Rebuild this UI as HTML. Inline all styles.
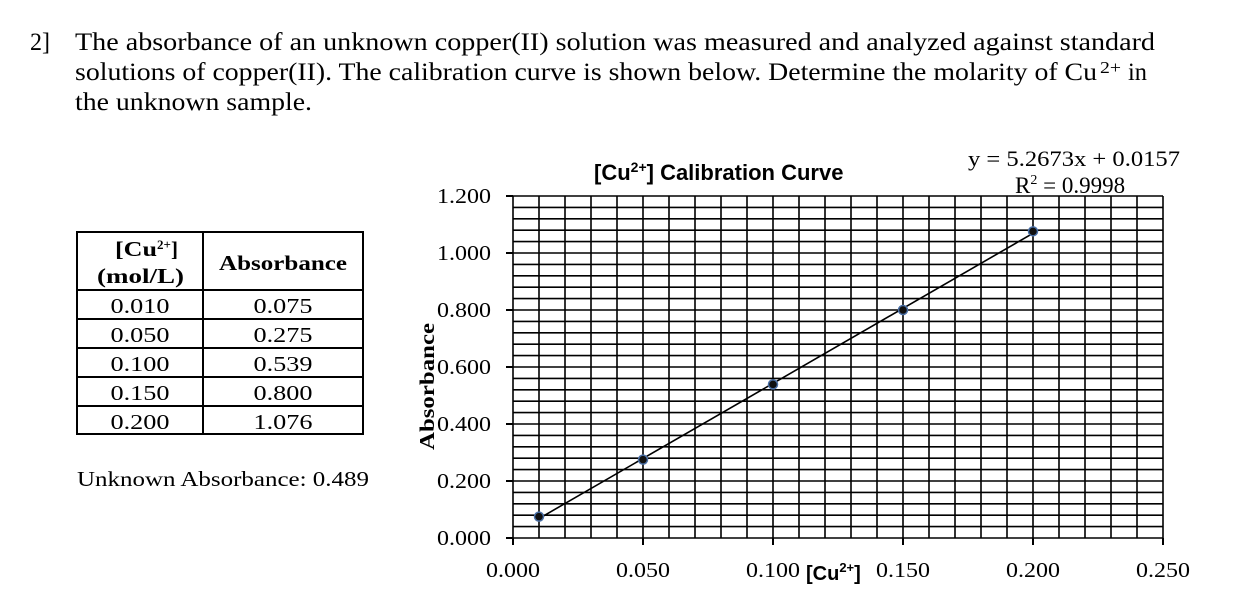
<!DOCTYPE html>
<html><head><meta charset="utf-8"><style>
body{margin:0;width:1246px;height:608px;background:#fff;overflow:hidden}
svg text{font-family:"Liberation Serif","DejaVu Serif",serif;fill:#000}
</style></head><body>
<svg id="c" width="1246" height="608" style="position:absolute;left:0;top:0">
<g font-size="25">
<text x="30" y="50" textLength="20" lengthAdjust="spacingAndGlyphs">2]</text>
<text x="75" y="50" textLength="1080" lengthAdjust="spacingAndGlyphs">The absorbance of an unknown copper(II) solution was measured and analyzed against standard</text>
<text x="75" y="80" textLength="1022" lengthAdjust="spacingAndGlyphs">solutions of copper(II).  The calibration curve is shown below.  Determine the molarity of Cu</text>
<text x="1100" y="73" font-size="17" textLength="21" lengthAdjust="spacingAndGlyphs">2+</text>
<text x="1128" y="80" textLength="19" lengthAdjust="spacingAndGlyphs">in</text>
<text x="75" y="110" textLength="237" lengthAdjust="spacingAndGlyphs">the unknown sample.</text>
</g>
<g font-size="21">
<rect x="77" y="232" width="286" height="202" fill="none" stroke="#000" stroke-width="2"/>
<line x1="203" x2="203" y1="232" y2="434" stroke="#000" stroke-width="2"/>
<line x1="77" x2="363" y1="290" y2="290" stroke="#000" stroke-width="2"/>
<line x1="77" x2="363" y1="319" y2="319" stroke="#000" stroke-width="2"/>
<line x1="77" x2="363" y1="348" y2="348" stroke="#000" stroke-width="2"/>
<line x1="77" x2="363" y1="377" y2="377" stroke="#000" stroke-width="2"/>
<line x1="77" x2="363" y1="406" y2="406" stroke="#000" stroke-width="2"/>
<text x="115" y="256" font-weight="bold" textLength="42" lengthAdjust="spacingAndGlyphs">[Cu</text>
<text x="157" y="249" font-weight="bold" font-size="13">2+</text>
<text x="171" y="256" font-weight="bold">]</text>
<text x="97" y="283" font-weight="bold" textLength="87" lengthAdjust="spacingAndGlyphs">(mol/L)</text>
<text x="219" y="270" font-weight="bold" textLength="128" lengthAdjust="spacingAndGlyphs">Absorbance</text>
</g>
<text x="77" y="486" font-size="21" textLength="292" lengthAdjust="spacingAndGlyphs">Unknown Absorbance: 0.489</text>
</svg>
<script>
const xs=[0.010,0.050,0.100,0.150,0.200];
const ys=[0.075,0.275,0.539,0.800,1.076];
const colA=["0.010","0.050","0.100","0.150","0.200"];
const colB=["0.075","0.275","0.539","0.800","1.076"];
const xTickVals=[0,0.05,0.1,0.15,0.2,0.25];
const yTickVals=[0,0.2,0.4,0.6,0.8,1.0,1.2];
const slope=5.2673, intercept=0.0157;
const L=513,R=1163,T=196,B=538;
const X=v=>L+(v/0.25)*(R-L), Y=v=>B-(v/1.2)*(B-T);
const s=document.getElementById('c');const NS='http://www.w3.org/2000/svg';
function mk(t,a,p){const e=document.createElementNS(NS,t);for(const k in a)e.setAttribute(k,a[k]);(p||s).appendChild(e);return e;}
colA.forEach((v,i)=>{const yy=313+i*29;
const a=mk('text',{x:140,y:yy,'text-anchor':'middle','font-size':21,textLength:59,lengthAdjust:'spacingAndGlyphs'});a.textContent=v;

const b=mk('text',{x:283,y:yy,'text-anchor':'middle','font-size':21,textLength:59,lengthAdjust:'spacingAndGlyphs'});b.textContent=colB[i];
});
const g=mk('g',{});


for(let i=0;i<=25;i++){const x=X(i*0.01);mk('line',{x1:x,x2:x,y1:T,y2:B,stroke:'#000','stroke-width':1.6},g);}
for(let i=0;i<=30;i++){const y=Y(i*0.04);mk('line',{x1:L,x2:R,y1:y,y2:y,stroke:'#000','stroke-width':1.6},g);}
yTickVals.forEach(v=>{const y=Y(v);mk('line',{x1:L-7,x2:L,y1:y,y2:y,stroke:'#000','stroke-width':2});
const t=mk('text',{x:437,y:y+7,'font-size':21,textLength:54,lengthAdjust:'spacingAndGlyphs'});t.textContent=v.toFixed(3);
});
xTickVals.forEach(v=>{const x=X(v);mk('line',{x1:x,x2:x,y1:B,y2:B+7,stroke:'#000','stroke-width':2});
const t=mk('text',{x:x-27,y:B+39,'font-size':21,textLength:54,lengthAdjust:'spacingAndGlyphs'});t.textContent=v.toFixed(3);
});
const xl=mk('text',{x:806,y:580,'font-size':20,'font-weight':'bold',style:'font-family:Liberation Sans,sans-serif'});xl.innerHTML='[Cu<tspan font-size="13" dy="-8">2+</tspan><tspan dy="8">]</tspan>';

const yl=mk('text',{x:0,y:0,'font-size':21,'font-weight':'bold',textLength:127,lengthAdjust:'spacingAndGlyphs',transform:'translate(434,450) rotate(-90)'});yl.textContent='Absorbance';

const ti=mk('text',{x:594,y:180,'font-size':22,'font-weight':'bold',style:'font-family:Liberation Sans,sans-serif'});ti.innerHTML='[Cu<tspan font-size="14" dy="-8">2+</tspan><tspan dy="8">] Calibration Curve</tspan>';

const tl=mk('line',{x1:X(xs[0]),y1:Y(slope*xs[0]+intercept),x2:X(xs[4]),y2:Y(slope*xs[4]+intercept),stroke:'#000','stroke-width':1.6});

xs.forEach((v,i)=>{const c=mk('circle',{cx:X(v),cy:Y(ys[i]),r:4.5,fill:'#111',stroke:'#4a6fa5','stroke-width':1.5});
});
const eq=mk('text',{x:968,y:166,'font-size':22,textLength:212,lengthAdjust:'spacingAndGlyphs'});eq.textContent='y = 5.2673x + 0.0157';

const r2=mk('text',{x:1015,y:193,'font-size':23});r2.innerHTML='R<tspan font-size="14" dy="-9">2</tspan><tspan dy="9"> = 0.9998</tspan>';

</script>
</body></html>
